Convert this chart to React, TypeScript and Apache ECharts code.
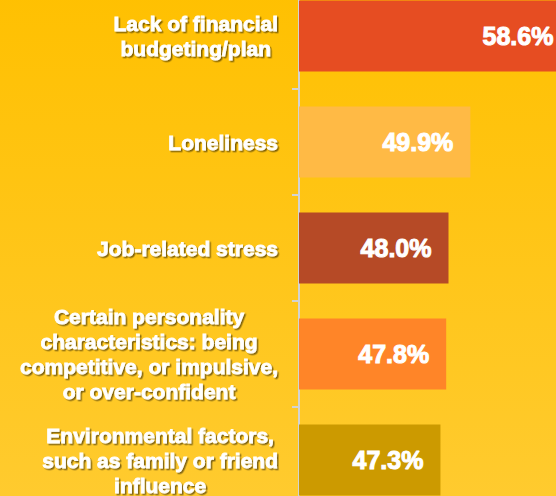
import React, { useEffect, useRef } from "react";
import * as echarts from "echarts";

const categories = [
  "Lack of financial\nbudgeting/plan",
  "Loneliness",
  "Job-related stress",
  "Certain personality\ncharacteristics: being\ncompetitive, or impulsive,\nor over-confident",
  "Environmental factors,\nsuch as family or friend\ninfluence",
];
const values = [58.6, 49.9, 48.0, 47.8, 47.3];
const barColors = ["#E64D22", "#FFBA45", "#B64A26", "#FF8528", "#CC9A00"];

export default function App() {
  const ref = useRef<HTMLDivElement>(null);
  useEffect(() => {
    if (!ref.current) return;
    const chart = echarts.init(ref.current, undefined, { renderer: "svg" });
    chart.setOption({
      animation: false,
      backgroundColor: {
        type: "linear",
        x: 0, y: 0, x2: 0, y2: 1,
        colorStops: [
          { offset: 0, color: "#FFC000" },
          { offset: 1, color: "#FFCB30" },
        ],
      },
      grid: { left: 299, right: 13.5, top: 0, bottom: 0, containLabel: false },
      xAxis: {
        type: "value",
        min: 35,
        max: 60,
        show: false,
      },
      yAxis: {
        type: "category",
        inverse: true,
        data: categories,
        axisLine: { show: true, lineStyle: { color: "#D3D3D3", width: 2 } },
        axisTick: { show: true, length: 7, lineStyle: { color: "#D3D3D3", width: 2 } },
        splitLine: { show: false },
        axisLabel: {
          margin: 21,
          align: "right",
          formatter: (v: string) => "{c|" + v + "}",
          rich: {
            c: {
              align: "center",
              color: "#FFFFFF",
              fontFamily: "Liberation Sans, Arial, sans-serif",
              fontWeight: "bold",
              fontSize: 21,
              lineHeight: 25,
              textBorderColor: "#FFFFFF",
              textBorderWidth: 0.8,
              textShadowColor: "rgba(0,0,0,0.5)",
              textShadowOffsetX: 1.5,
              textShadowOffsetY: 1.5,
              textShadowBlur: 1.5,
            },
          },
        },
      },
      series: [
        {
          type: "bar",
          data: values.map((v, i) => ({ value: v, itemStyle: { color: barColors[i] } })),
          barCategoryGap: "33%",
          label: {
            show: true,
            position: "insideRight",
            distance: 17,
            formatter: (p: any) => p.value.toFixed(1) + "%",
            color: "#FFFFFF",
            fontFamily: "Liberation Sans, Arial, sans-serif",
            fontWeight: "bold",
            fontSize: 25,
            textBorderColor: "#FFFFFF",
            textBorderWidth: 1,
          },
        },
      ],
    });
    return () => chart.dispose();
  }, []);
  return (
    <div
      style={{
        position: "fixed",
        left: 0,
        top: 0,
        width: 556,
        height: 496,
        overflow: "hidden",
        background: "#FFC000",
      }}
    >
      <div
        ref={ref}
        style={{ position: "absolute", left: 0, top: -17, width: 600, height: 530 }}
      />
    </div>
  );
}
